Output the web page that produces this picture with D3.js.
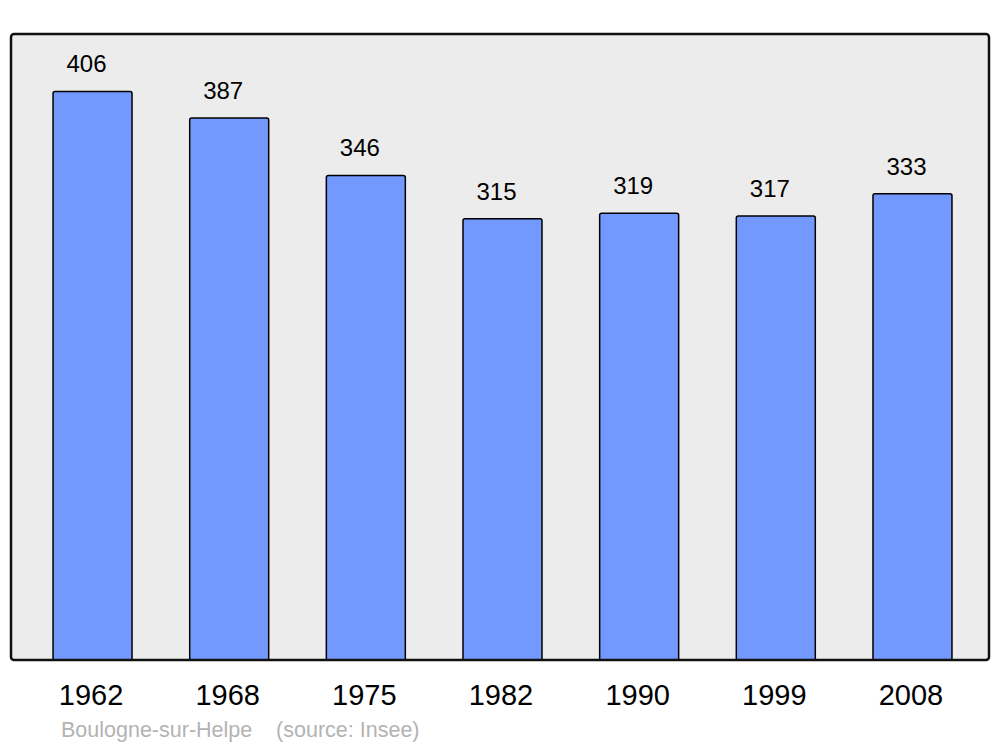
<!DOCTYPE html>
<html>
<head>
<meta charset="utf-8">
<script src="https://cdn.jsdelivr.net/npm/d3@7"></script>
<style>
  body { margin: 0; background: #fff; }
  text { font-family: "Liberation Sans", Arial, sans-serif; }
</style>
</head>
<body>
<script>
var years = ["1962", "1968", "1975", "1982", "1990", "1999", "2008"];
var population = [406, 387, 346, 315, 319, 317, 333];
var caption = "Boulogne-sur-Helpe    (source: Insee)";

var width = 1000, height = 747;
var svg = d3.select("body").append("svg")
    .attr("width", width)
    .attr("height", height);

// plot frame
var frame = {left: 11, top: 34, right: 989, bottom: 660};

svg.append("rect")
    .attr("x", frame.left)
    .attr("y", frame.top)
    .attr("width", frame.right - frame.left)
    .attr("height", frame.bottom - frame.top)
    .attr("rx", 3)
    .style("fill", "#ececec")
    .style("stroke", "none");

var x = d3.scaleBand()
    .domain(years)
    .range([24.2, 980.8])
    .paddingInner(0.422)
    .paddingOuter(0.211);

var y = d3.scaleLinear()
    .domain([0, 447])
    .range([frame.bottom, frame.top]);

var data = years.map(function (d, i) { return {year: d, value: population[i]}; });

var bar = svg.selectAll("g.bar")
    .data(data)
    .enter()
    .append("g")
    .attr("class", "bar");

bar.append("rect")
    .attr("x", function (d) { return x(d.year); })
    .attr("y", function (d) { return y(d.value); })
    .attr("width", x.bandwidth())
    .attr("height", function (d) { return y(0) - y(d.value) + 3; })
    .attr("rx", 2)
    .style("fill", "#7399ff")
    .style("stroke", "#000")
    .style("stroke-width", "1.5px");

bar.append("text")
    .attr("x", function (d) { return x(d.year) + x.bandwidth() / 2 - 6; })
    .attr("y", function (d) { return y(d.value) - 19; })
    .style("text-anchor", "middle")
    .style("font-size", "24px")
    .style("fill", "#000")
    .text(function (d) { return d.value; });

// cover the bar bottoms below the frame, then draw frame border
svg.append("rect")
    .attr("x", 0)
    .attr("y", frame.bottom)
    .attr("width", width)
    .attr("height", 10)
    .style("fill", "#fff");

svg.append("rect")
    .attr("x", frame.left)
    .attr("y", frame.top)
    .attr("width", frame.right - frame.left)
    .attr("height", frame.bottom - frame.top)
    .attr("rx", 3)
    .style("fill", "none")
    .style("stroke", "#111")
    .style("stroke-width", "2.5px");

// year labels
svg.selectAll("text.year")
    .data(years)
    .enter()
    .append("text")
    .attr("class", "year")
    .attr("x", function (d) { return x(d) + x.bandwidth() / 2 - 1.5; })
    .attr("y", 705)
    .style("text-anchor", "middle")
    .style("font-size", "29px")
    .style("fill", "#000")
    .text(function (d) { return d; });

svg.append("text")
    .attr("x", 61)
    .attr("y", 737)
    .style("font-size", "21.5px")
    .style("fill", "#b3b3b3")
    .style("white-space", "pre")
    .attr("xml:space", "preserve")
    .text(caption);
</script>
</body>
</html>
